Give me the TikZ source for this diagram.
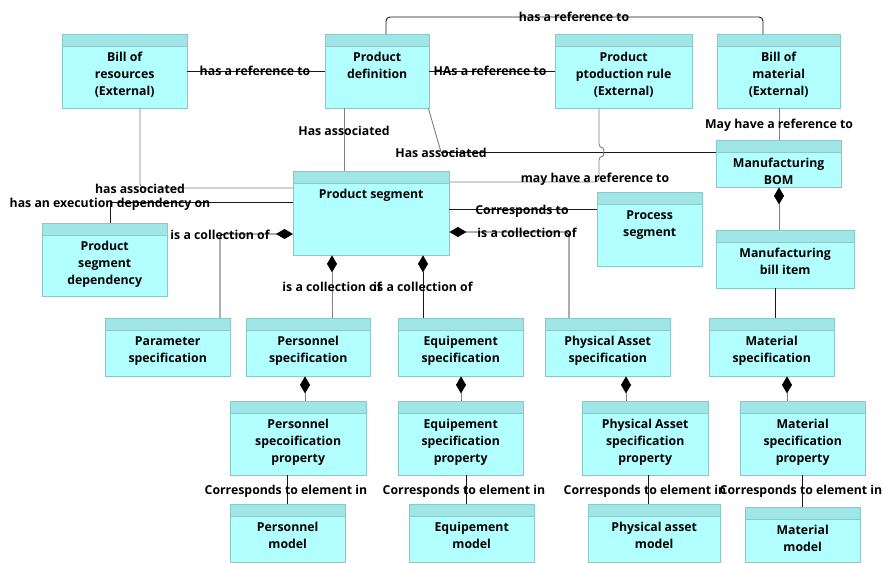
\documentclass[tikz,border=0pt]{standalone}
\usepackage{fontspec}
\setmainfont{Open Sans}
\usetikzlibrary{arrows.meta}
\definecolor{eboxfill}{RGB}{178,255,255}
\definecolor{eboxhead}{RGB}{160,230,230}
\definecolor{eboxline}{RGB}{140,200,200}
\tikzset{
  ebox/.style={draw=eboxline, fill=eboxfill, anchor=north west, inner sep=0pt,
    align=center, font=\bfseries\fontsize{12.3}{17.3}\selectfont,
    path picture={
      \fill[eboxhead] (path picture bounding box.north west) rectangle ([yshift=-12pt]path picture bounding box.north east);
      \draw[eboxline] ([yshift=-12pt]path picture bounding box.north west) -- ([yshift=-12pt]path picture bounding box.north east);}},
  one/.style={text height=27pt},
  two/.style={text height=44.3pt},
  three/.style={text height=61.6pt},
  lbl/.style={anchor=base, inner sep=0pt, font=\bfseries\fontsize{12.3}{14}\selectfont},
  rel/.style={draw=black!90, line width=0.9pt},
  grel/.style={draw=black!50, line width=0.9pt},
  dia/.style={{Diamond[length=17pt,width=10pt,color=black]}-}
}
\begin{document}
\begin{tikzpicture}[x=1pt,y=-1pt]
  \useasboundingbox (0,0) rectangle (883,562);
  \node[ebox, three, minimum width=125, text depth=12.4] (bor)  at (62,34)  {Bill of\\resources\\(External)};
  \node[ebox, two,   minimum width=104, text depth=29.7] (pdef) at (325,34) {Product\\definition};
  \node[ebox, three, minimum width=137, text depth=12.4] (ppr)  at (555,34) {Product\\ptoduction rule\\(External)};
  \node[ebox, three, minimum width=123, text depth=12.4] (bom)  at (717,34) {Bill of\\material\\(External)};
  \node[ebox, two,   minimum width=125, text depth=2.7]  (mbom) at (716,140) {Manufacturing\\BOM};
  \node[ebox, one,   minimum width=156, text depth=57]   (pseg) at (293,171) {Product segment};
  \node[ebox, two,   minimum width=105, text depth=29.7] (procseg) at (597,192) {Process\\segment};
  \node[ebox, three, minimum width=125, text depth=11.4] (psd)  at (42,223) {Product\\segment\\dependency};
  \node[ebox, two,   minimum width=138, text depth=13.7] (mbi)  at (716,230) {Manufacturing\\bill item};

  \node[ebox, two, minimum width=125, text depth=13.7] (parspec) at (105,318) {Parameter\\specification};
  \node[ebox, two, minimum width=124, text depth=13.7] (perspec) at (246,318) {Personnel\\specification};
  \node[ebox, two, minimum width=125, text depth=13.7] (eqspec)  at (398,318) {Equipement\\specification};
  \node[ebox, two, minimum width=125, text depth=13.7] (paspec)  at (545,318) {Physical Asset\\specification};
  \node[ebox, two, minimum width=125, text depth=13.7] (matspec) at (709,318) {Material\\specification};

  \node[ebox, three, minimum width=136, text depth=12.4] (perprop) at (230,401) {Personnel\\specoification\\property};
  \node[ebox, three, minimum width=125, text depth=12.4] (eqprop)  at (398,401) {Equipement\\specification\\property};
  \node[ebox, three, minimum width=126, text depth=12.4] (paprop)  at (582,401) {Physical Asset\\specification\\property};
  \node[ebox, three, minimum width=125, text depth=12.4] (matprop) at (740,401) {Material\\specification\\property};

  \node[ebox, two, minimum width=115, text depth=13.7] (permod) at (230,504) {Personnel\\model};
  \node[ebox, two, minimum width=125, text depth=13.7] (eqmod)  at (409,504) {Equipement\\model};
  \node[ebox, two, minimum width=132, text depth=13.7] (pamod)  at (588,504) {Physical asset\\model};
  \node[ebox, two, minimum width=115, text depth=10.7] (matmod) at (745,507) {Material\\model};

  \draw[rel] (bor.east) -- (pdef.west);
  \draw[rel] (pdef.east) -- (ppr.west);
  \draw[rel, rounded corners=4] (pdef.north -| 386,0) |- (574,17) -| (bom.north -| 763,0);
  \draw[grel] (pdef.south -| 344,0) -- (pseg.north -| 344,0);
  \draw[grel] ([xshift=-1pt]pdef.south east) -- (441,152);
  \draw[rel] (441,152) -- (mbom.west |- 0,152);
  \draw[grel, rounded corners=4] (ppr.south -| 599,0) -- (599,148) .. controls (604,148) and (604,156) .. (599,156) |- (pseg.east |- 0,182);
  \draw[grel] (bom.south -| 779,0) -- (mbom.north -| 779,0);
  \draw[grel, dia] (mbom.south -| 779,0) -- (mbi.north -| 779,0);
  \draw[grel, rounded corners=4] (bor.south -| 140,0) |- (pseg.west |- 0,188);
  \draw[rel] (psd.north -| 110,0) |- (pseg.west |- 0,202);
  \draw[rel, dia, rounded corners=4] (pseg.west |- 0,234) -| (parspec.north -| 220,0);
  \draw[grel, dia] (pseg.south -| 332,0) -- (perspec.north -| 332,0);
  \draw[rel, dia] (pseg.south -| 423,0) -- (eqspec.north -| 423,0);
  \draw[rel, dia, rounded corners=4] (pseg.east |- 0,232) -| (paspec.north -| 569,0);
  \draw[rel] (pseg.east |- 0,209) -- (procseg.west |- 0,209);
  \draw[rel] (mbi.south -| 775,0) -- (matspec.north -| 775,0);

  \foreach \from/\to/\x in {perspec/perprop/305,eqspec/eqprop/461,paspec/paprop/626,matspec/matprop/787}
    \draw[grel, dia] (\from.south -| \x,0) -- (\to.north -| \x,0);
  \foreach \from/\to/\x in {perprop/permod/287,eqprop/eqmod/466,paprop/pamod/648,matprop/matmod/802}
    \draw[rel] (\from.south -| \x,0) -- (\to.north -| \x,0);

  \node[lbl] (l1) at (255,75) {has a reference to};
  \node[lbl] (l2) at (490,75) {HAs a reference to};
  \node[lbl] (l3) at (574,21.5) {has a reference to};
  \node[lbl] (l4) at (344,135) {Has associated};
  \node[lbl] (l5) at (441,157) {Has associated};
  \node[lbl] (l6) at (595,182) {may have a reference to};
  \node[lbl] (l7) at (779,128) {May have a reference to};
  \node[lbl] (l8) at (140,193.5) {has associated};
  \node[lbl] (l9) at (110,207) {has an execution dependency on};
  \node[lbl] (l10) at (220,239) {is a collection of};
  \node[lbl] (l11) at (332,291) {is a collection of};
  \node[lbl] (l12) at (423,291) {is a collection of};
  \node[lbl] (l13) at (527,237) {is a collection of};
  \node[lbl] (l14) at (522,214) {Corresponds to};
  \foreach \x in {286,464,645,801}
    \node[lbl] at (\x,494) {Corresponds to element in};
\end{tikzpicture}
\end{document}
